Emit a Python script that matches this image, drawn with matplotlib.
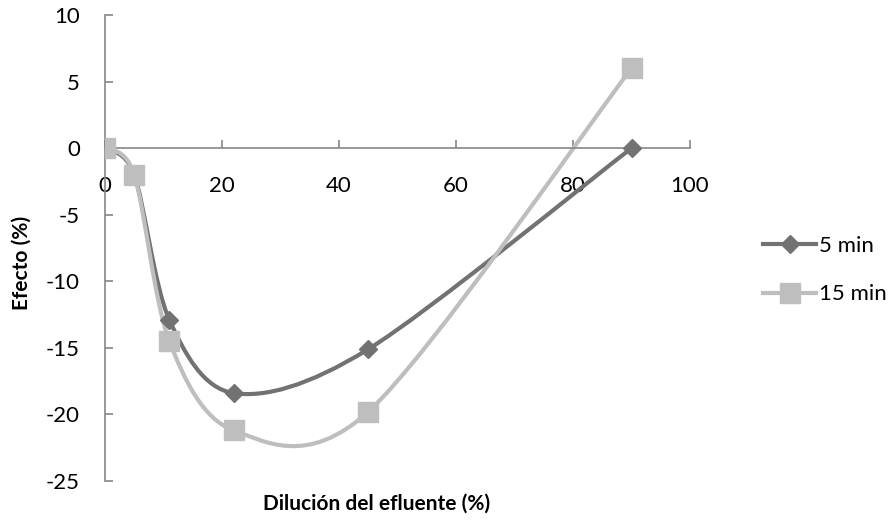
import matplotlib
matplotlib.use("Agg")
import matplotlib.pyplot as plt
from matplotlib.path import Path
from matplotlib.patches import PathPatch
from matplotlib.lines import Line2D
import numpy as np

plt.rcParams['font.family'] = ['Lato', 'DejaVu Sans']
plt.rcParams['axes.unicode_minus'] = False

dilucion = [0, 5, 11, 22, 45, 90]
efecto_5 = [0, -2, -12.9, -18.4, -15.1, 0]
efecto_15 = [0, -2, -14.5, -21.2, -19.8, 6]
series_names = ["5 min", "15 min"]

dark = "#727272"
light = "#bebebe"
axis_grey = "#868686"


def smooth_path(xs, ys, k=6.5):
    # Catmull-Rom style bezier through every point
    pts = np.column_stack([xs, ys]).astype(float)
    ext = np.vstack([pts[0], pts, pts[-1]])
    verts = [pts[0]]
    codes = [Path.MOVETO]
    for i in range(len(pts) - 1):
        p0, p1, p2, p3 = ext[i], ext[i + 1], ext[i + 2], ext[i + 3]
        c1 = p1 + (p2 - p0) / k
        c2 = p2 - (p3 - p1) / k
        verts += [c1, c2, p2]
        codes += [Path.CURVE4] * 3
    return Path(verts, codes)


fig = plt.figure(figsize=(8.91, 5.20), dpi=100)
ax = fig.add_axes([105 / 891, 1 - 481 / 520, 585 / 891, 466 / 520])
ax.set_xlim(0, 100)
ax.set_ylim(-25, 10)

for ys, col, mk, ms in [(efecto_5, dark, 'D', 9.5), (efecto_15, light, 's', 14)]:
    ax.add_patch(PathPatch(smooth_path(dilucion, ys), fill=False,
                           edgecolor=col, lw=3, capstyle='round',
                           joinstyle='round', zorder=2))
    ax.plot(dilucion, ys, linestyle='none', marker=mk, ms=ms,
            color=col, mec=col, zorder=3)

ax.spines['left'].set_position(('data', 0))
ax.spines['bottom'].set_position(('data', 0))
ax.spines['right'].set_visible(False)
ax.spines['top'].set_visible(False)
for s in ['left', 'bottom']:
    ax.spines[s].set_color(axis_grey)
    ax.spines[s].set_linewidth(1.2)

ax.set_xticks(np.arange(0, 101, 20))
ax.set_yticks(np.arange(-25, 11, 5))
ax.tick_params(axis='both', direction='in', length=6, width=1.2,
               color=axis_grey, labelsize=16, labelcolor='black')
ax.tick_params(axis='x', pad=20)
ax.tick_params(axis='y', pad=18)

fig.text(377 / 891, 1 - 504 / 520, "Dilución del efluente (%)",
         ha='center', va='center', fontsize=15, fontweight='bold')
fig.text(22 / 891, 1 - 263 / 520, "Efecto (%)", rotation=90,
         ha='center', va='center', fontsize=15, fontweight='bold')

handles = [Line2D([], [], color=dark, lw=3, marker='D', ms=9.5),
           Line2D([], [], color=light, lw=3, marker='s', ms=14)]
fig.legend(handles, series_names, loc='center left',
           bbox_to_anchor=(752 / 891, 1 - 270 / 520), frameon=False,
           fontsize=16, handlelength=2.4, handletextpad=0.1,
           labelspacing=1.3, borderpad=0)

fig.savefig("out.png", dpi=100, facecolor='white')
